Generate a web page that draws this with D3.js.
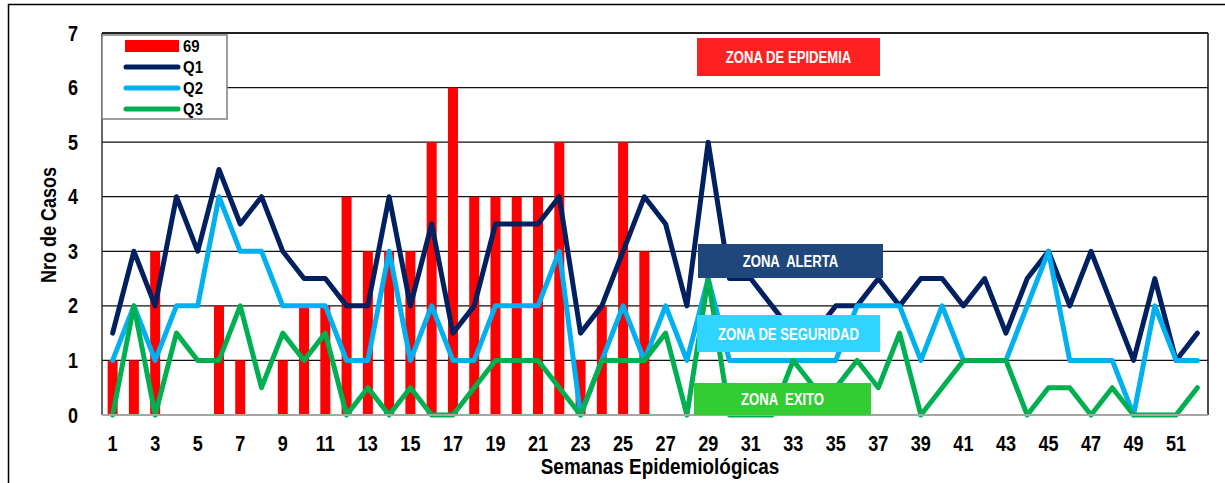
<!DOCTYPE html>
<html>
<head>
<meta charset="utf-8">
<script src="https://cdn.jsdelivr.net/npm/d3@7"></script>
<style>
  body { margin: 0; background: #fff; }
  svg { display: block; }
  text { font-family: "Liberation Sans", Arial, sans-serif; font-weight: bold; }
</style>
</head>
<body>
<svg id="chart" width="1225" height="483"></svg>
<script>
// semanas epidemiologicas
var semanas = d3.range(1, 53);
var etiquetasX = [1, 3, 5, 7, 9, 11, 13, 15, 17, 19, 21, 23, 25, 27, 29, 31, 33, 35, 37, 39, 41, 43, 45, 47, 49, 51];
var ticksY = [0, 1, 2, 3, 4, 5, 6, 7];

// casos del año (barras) - solo hasta la semana 26
var casos69 = [1, 1, 3, 0, 0, 2, 1, 0, 1, 2, 2, 4, 3, 3, 3, 5, 6, 4, 4, 4, 4, 5, 1, 2, 5, 3,
    null, null, null, null, null, null, null, null, null, null, null, null, null,
    null, null, null, null, null, null, null, null, null, null, null, null, null];

// cuartiles del canal endemico
var q1 = [1.5, 3, 2, 4, 3, 4.5, 3.5, 4, 3, 2.5, 2.5, 2, 2, 4, 2, 3.5, 1.5, 2, 3.5, 3.5, 3.5, 4, 1.5, 2, 3, 4,
    3.5, 2, 5, 2.5, 2.5, 2, 1.5, 1.5, 2, 2, 2.5, 2, 2.5, 2.5, 2, 2.5, 1.5, 2.5, 3, 2, 3, 2, 1, 2.5, 1, 1.5];
var q2 = [1, 2, 1, 2, 2, 4, 3, 3, 2, 2, 2, 1, 1, 3, 1, 2, 1, 1, 2, 2, 2, 3, 0, 1, 2, 1,
    2, 1, 2.5, 1, 1, 1, 1, 1, 1, 2, 2, 2, 1, 2, 1, 1, 1, 2, 3, 1, 1, 1, 0, 2, 1, 1];
var q3 = [0, 2, 0, 1.5, 1, 1, 2, 0.5, 1.5, 1, 1.5, 0, 0.5, 0, 0.5, 0, 0, 0.5, 1, 1, 1, 0.5, 0, 1, 1, 1,
    1.5, 0, 2.5, 0, 0, 0, 1, 0.5, 0.5, 1, 0.5, 1.5, 0, 0.5, 1, 1, 1, 0, 0.5, 0.5, 0, 0.5, 0, 0, 0, 0.5];

var series = [
    { nombre: 'Q1', valores: q1, color: '#002060' },
    { nombre: 'Q2', valores: q2, color: '#00B0F0' },
    { nombre: 'Q3', valores: q3, color: '#00B050' }
];

var zonas = [
    { texto: 'ZONA DE EPIDEMIA', color: '#FF2121' },
    { texto: 'ZONA  ALERTA', color: '#1F477B' },
    { texto: 'ZONA DE SEGURIDAD', color: '#30D5FF' },
    { texto: 'ZONA  EXITO', color: '#33CC33' }
];

d3.select(window).on('load', init);

function init() {
    var svg = d3.select('#chart');
    var margin = { left: 102, top: 33, right: 17, bottom: 68 };
    var width = 1225 - margin.left - margin.right;
    var height = 483 - margin.top - margin.bottom;
    var narrow = 0.82;  // arial narrow look

    // marco exterior
    svg.append('rect')
        .attr('x', 8.5).attr('y', 4.5)
        .attr('width', 1240).attr('height', 500)
        .attr('fill', 'none').attr('stroke', '#000').attr('stroke-width', 1.5);

    var g = svg.append('g')
        .attr('transform', 'translate(' + margin.left + ',' + margin.top + ')');

    var x = d3.scaleBand().domain(semanas).range([0, width]).padding(0);
    var y = d3.scaleLinear().domain([0, 7]).range([height, 0]);

    // grid
    g.selectAll('line.grid')
        .data(ticksY.filter(function(d) { return d > 0; }))
        .enter()
        .append('line')
        .attr('class', 'grid')
        .attr('x1', 0).attr('x2', width)
        .attr('y1', function(d) { return y(d); })
        .attr('y2', function(d) { return y(d); })
        .attr('stroke', '#111').attr('stroke-width', 1.2);

    // borde del area
    g.append('line').attr('x1', 0).attr('x2', 0).attr('y1', 0).attr('y2', height)
        .attr('stroke', '#333').attr('stroke-width', 1.5);
    g.append('line').attr('x1', width).attr('x2', width).attr('y1', 0).attr('y2', height)
        .attr('stroke', '#111').attr('stroke-width', 1.5);
    g.append('line').attr('x1', 0).attr('x2', width).attr('y1', 0).attr('y2', 0)
        .attr('stroke', '#222').attr('stroke-width', 2);

    // barras
    var barW = 10;
    g.selectAll('rect.bar')
        .data(semanas.filter(function(d, i) { return casos69[i]; }))
        .enter()
        .append('rect')
        .attr('class', 'bar')
        .attr('x', function(d) { return x(d) + x.bandwidth() / 2 - barW / 2; })
        .attr('y', function(d) { return y(casos69[d - 1]); })
        .attr('width', barW)
        .attr('height', function(d) { return height - y(casos69[d - 1]); })
        .attr('fill', '#FF0000');

    // lineas
    var line = d3.line()
        .x(function(d, i) { return x(semanas[i]) + x.bandwidth() / 2; })
        .y(function(d) { return y(d); });

    series.forEach(function(s) {
        g.append('path')
            .datum(s.valores)
            .attr('d', line)
            .attr('fill', 'none')
            .attr('stroke', s.color)
            .attr('stroke-width', 5)
            .attr('stroke-linejoin', 'round')
            .attr('stroke-linecap', 'round');
    });

    // eje 0
    g.append('line').attr('x1', 0).attr('x2', width).attr('y1', height).attr('y2', height)
        .attr('stroke', '#A6A6A6').attr('stroke-width', 2);

    // zonas (cuadros de texto)
    var cajas = [
        [595, 5, 183, 38],
        [596, 211, 185, 34],
        [595, 282, 183, 37],
        [592, 350, 177, 32]
    ];
    zonas.forEach(function(z, i) {
        var c = cajas[i];
        g.append('rect')
            .attr('x', c[0]).attr('y', c[1])
            .attr('width', c[2]).attr('height', c[3])
            .attr('fill', z.color);
        g.append('text')
            .attr('transform', 'translate(' + (c[0] + c[2] / 2) + ',' + (c[1] + c[3] / 2 + 6) + ') scale(' + narrow + ',1)')
            .attr('text-anchor', 'middle')
            .attr('font-size', 16)
            .attr('fill', '#fff')
            .style('white-space', 'pre')
            .text(z.texto);
    });

    // eje y
    var yAxis = g.append('g')
        .call(d3.axisLeft(y).tickValues(ticksY).tickSize(0).tickFormat(d3.format('d')));
    yAxis.select('.domain').remove();
    yAxis.selectAll('text')
        .attr('x', -24 / narrow)
        .attr('transform', 'scale(' + narrow + ',1)')
        .attr('font-size', 22)
        .attr('font-family', '"Liberation Sans", Arial, sans-serif')
        .attr('fill', '#000');

    // eje x
    var xAxis = g.append('g')
        .attr('transform', 'translate(0,' + height + ')')
        .call(d3.axisBottom(x).tickValues(etiquetasX).tickSize(0).tickPadding(20));
    xAxis.select('.domain').remove();
    xAxis.selectAll('text')
        .attr('transform', 'scale(' + narrow + ',1)')
        .attr('font-size', 22)
        .attr('font-family', '"Liberation Sans", Arial, sans-serif')
        .attr('fill', '#000');

    // titulos de ejes
    svg.append('text')
        .attr('transform', 'translate(660,474) scale(0.86,1)')
        .attr('text-anchor', 'middle')
        .attr('font-size', 22)
        .text('Semanas Epidemiológicas');

    svg.append('text')
        .attr('transform', 'translate(56,225) rotate(-90) scale(' + narrow + ',1)')
        .attr('text-anchor', 'middle')
        .attr('font-size', 22)
        .text('Nro de Casos');

    // leyenda
    var leg = svg.append('g').attr('transform', 'translate(102,35)');
    leg.append('rect')
        .attr('width', 125).attr('height', 84)
        .attr('fill', '#fff').attr('stroke', '#7F7F7F').attr('stroke-width', 1.5);

    var items = [{ nombre: '69', color: '#FF0000', barra: true }].concat(series);
    items.forEach(function(it, i) {
        var cy = 11 + i * 21;
        if (it.barra) {
            leg.append('rect')
                .attr('x', 23).attr('y', cy - 6)
                .attr('width', 54).attr('height', 12)
                .attr('fill', it.color);
        } else {
            leg.append('line')
                .attr('x1', 24).attr('x2', 76)
                .attr('y1', cy).attr('y2', cy)
                .attr('stroke', it.color).attr('stroke-width', 5)
                .attr('stroke-linecap', 'round');
        }
        leg.append('text')
            .attr('transform', 'translate(81,' + (cy + 6) + ') scale(0.88,1)')
            .attr('font-size', 17)
            .text(it.nombre);
    });
}
</script>
</body>
</html>
